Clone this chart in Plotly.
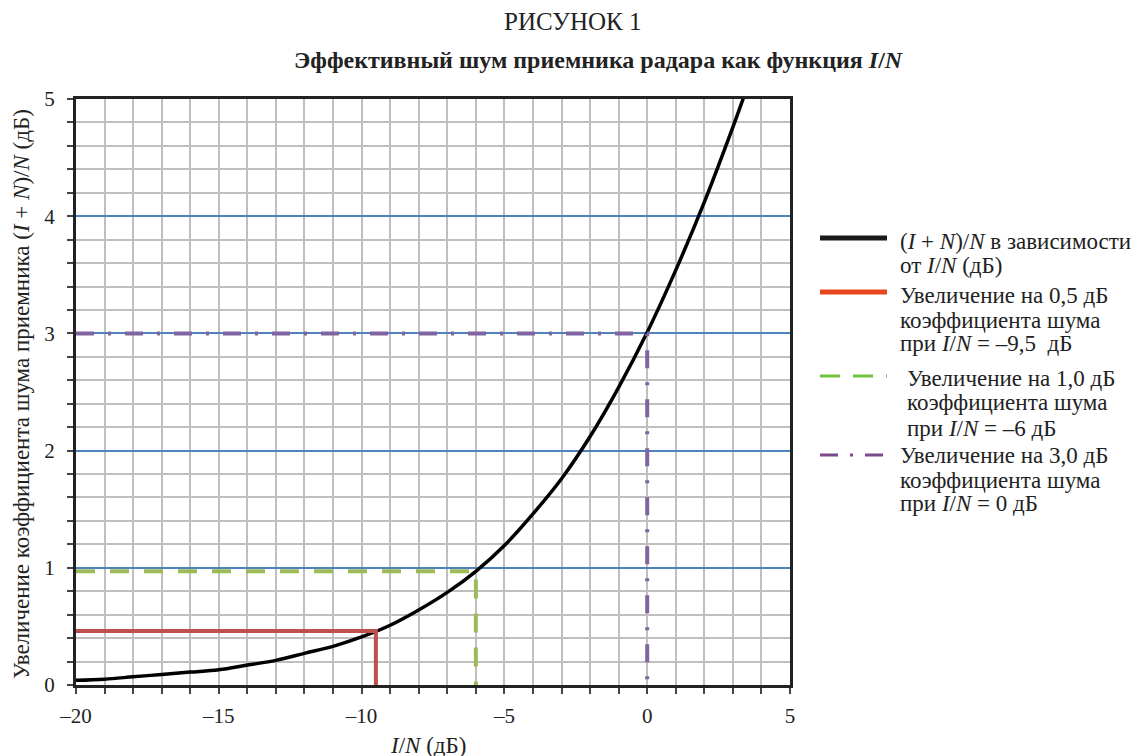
import plotly.graph_objects as go

# Curve (I+N)/N vs I/N
in_db = [-20, -19, -18, -17, -16, -15, -14, -13, -12, -11, -10, -9, -8, -7, -6, -5, -4, -3, -2, -1, 0, 1, 2, 3, 3.4]
inc_db = [0.04, 0.05, 0.07, 0.09, 0.11, 0.13, 0.17, 0.21, 0.27, 0.33, 0.41, 0.51, 0.64, 0.79, 0.97,
          1.19, 1.46, 1.76, 2.12, 2.54, 3.01, 3.54, 4.12, 4.76, 5.03]

# Reference lines
red_x = [-20, -9.5, -9.5]
red_y = [0.46, 0.46, 0]
green_x = [-20, -6, -6]
green_y = [0.97, 0.97, 0]
purple_x = [-20, 0, 0]
purple_y = [3.0, 3.0, 0]

x_tick_vals = [-20, -15, -10, -5, 0, 5]
x_tick_text = ["–20", "–15", "–10", "–5", "0", "5"]
y_tick_vals = [0, 1, 2, 3, 4, 5]

legend_entries = [
    ["(<i>I</i> + <i>N</i>)/<i>N</i> в зависимости", "от <i>I</i>/<i>N</i> (дБ)"],
    ["Увеличение на 0,5 дБ", "коэффициента шума", "при <i>I</i>/<i>N</i> = –9,5  дБ"],
    ["Увеличение на 1,0 дБ", "коэффициента шума", "при <i>I</i>/<i>N</i> = –6 дБ"],
    ["Увеличение на 3,0 дБ", "коэффициента шума", "при <i>I</i>/<i>N</i> = 0 дБ"],
]

FONT = "Liberation Serif, Times New Roman, serif"
TXT = "#222222"

# layout geometry (figure pixels; page body adds 8px offset)
ML, MT, PW, PH = 68, 91, 714, 586
W, H = 1145, 756
MR = W - ML - PW
MB = H - MT - PH


def px(xs):  # screen x -> paper x
    return (xs - 8 - ML) / PW


def py(ys):  # screen y -> paper y
    return 1 - (ys - 8 - MT) / PH


fig = go.Figure()
fig.add_trace(go.Scatter(x=in_db, y=inc_db, mode="lines", showlegend=False,
                         line=dict(color="black", width=3.5, shape="spline")))
fig.add_trace(go.Scatter(x=red_x, y=red_y, mode="lines", showlegend=False,
                         line=dict(color="#c0504d", width=4)))
fig.add_trace(go.Scatter(x=green_x, y=green_y, mode="lines", showlegend=False,
                         line=dict(color="#9bbb59", width=4, dash="19px,15px")))
fig.add_trace(go.Scatter(x=purple_x, y=purple_y, mode="lines", showlegend=False,
                         line=dict(color="#8064a2", width=4, dash="18px,14px,3px,14px")))

annotations = [
    dict(text="РИСУНОК 1", x=px(573), y=py(22), size=25),
    dict(text="<b>Эффективный шум приемника радара как функция <i>I</i>/<i>N</i></b>",
         x=px(599), y=py(60)),
    dict(text="<i>I</i>/<i>N</i> (дБ)", x=px(428), y=py(745), size=23),
    dict(text="Увеличение коэффициента шума приемника (<i>I</i> + <i>N</i>)/<i>N</i> (дБ)",
         x=px(21), y=py(394), size=23, angle=-90),
]
ann_objs = []
for a in annotations:
    ann_objs.append(dict(text=a["text"], x=a["x"], y=a["y"], xref="paper", yref="paper",
                         showarrow=False, xanchor="center", yanchor="middle",
                         textangle=a.get("angle", 0),
                         font=dict(family=FONT, size=a.get("size", 24), color=TXT)))

# manual legend
leg_line_y = [238, 292, 376, 455]
leg_text_y = [[241, 265], [295, 320, 343], [378, 403, 428], [455, 480, 503]]
leg_text_x = [898, 898, 905, 898]
leg_styles = [
    dict(color="#1a1a1a", width=5, dash="solid"),
    dict(color="#e8461e", width=5, dash="solid"),
    dict(color="#72c23f", width=3, dash="20px,13px"),
    dict(color="#7c4a8a", width=3, dash="18px,12px,3px,12px"),
]
shapes = []
for i, entry in enumerate(legend_entries):
    shapes.append(dict(type="line", xref="paper", yref="paper",
                       x0=px(820), x1=px(887), y0=py(leg_line_y[i]), y1=py(leg_line_y[i]),
                       line=leg_styles[i]))
    for j, line in enumerate(entry):
        ann_objs.append(dict(text=line, x=px(leg_text_x[i]), y=py(leg_text_y[i][j]),
                             xref="paper", yref="paper", showarrow=False,
                             xanchor="left", yanchor="middle",
                             font=dict(family=FONT, size=23, color=TXT)))

fig.update_layout(
    width=W, height=H,
    paper_bgcolor="white", plot_bgcolor="white",
    margin=dict(l=ML, r=MR, t=MT, b=MB),
    font=dict(family=FONT, color=TXT, size=20),
    showlegend=False,
    annotations=ann_objs,
    shapes=shapes,
)

fig.update_xaxes(
    range=[-20, 5], tickmode="array", tickvals=x_tick_vals, ticktext=x_tick_text,
    ticks="outside", ticklen=6, tickcolor="#444", tickwidth=1.5,
    tickfont=dict(family=FONT, size=21, color=TXT), ticklabelstandoff=4,
    showgrid=True, gridcolor="#bfbfbf", gridwidth=1.5,
    minor=dict(dtick=1, tick0=0, showgrid=True, gridcolor="#bfbfbf", gridwidth=1.5,
               ticks="outside", ticklen=6, tickcolor="#444"),
    showline=True, linecolor="#222", linewidth=3, mirror=True,
    zeroline=False, automargin=False,
)
fig.update_yaxes(
    range=[0, 5], tickmode="array", tickvals=y_tick_vals,
    ticks="outside", ticklen=6, tickcolor="#444", tickwidth=1.5,
    tickfont=dict(family=FONT, size=21, color=TXT), ticklabelstandoff=8,
    showgrid=True, gridcolor="#4f81bd", gridwidth=1.5,
    minor=dict(dtick=0.2, tick0=0, showgrid=True, gridcolor="#bfbfbf", gridwidth=1.5,
               ticks="outside", ticklen=6, tickcolor="#444"),
    showline=True, linecolor="#222", linewidth=3, mirror=True,
    zeroline=False, automargin=False,
)

fig.write_html("out.html")
